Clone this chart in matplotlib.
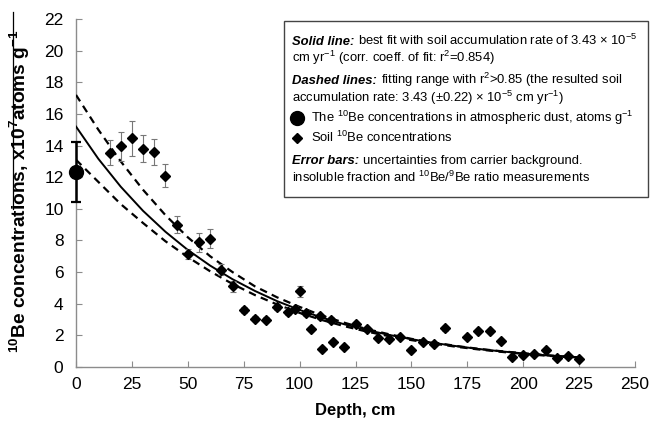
import matplotlib
matplotlib.use("Agg")
import matplotlib.pyplot as plt
from matplotlib.lines import Line2D
from matplotlib.patches import Rectangle

plt.rcParams['font.family'] = ['Liberation Sans', 'DejaVu Sans']
plt.rcParams['mathtext.fontset'] = 'custom'
plt.rcParams['mathtext.rm'] = 'Liberation Sans'
plt.rcParams['mathtext.it'] = 'Liberation Sans:italic'
plt.rcParams['mathtext.bf'] = 'Liberation Sans:bold'

# ---------------- data ----------------
soil_depth = [15, 20, 25, 30, 35, 40, 45, 50, 55, 60, 65, 70, 75, 80, 85, 90, 95,
              100, 98, 103, 105, 109, 110, 114, 115, 120, 125, 130, 135, 140, 145,
              150, 155, 160, 165, 175, 180, 185, 190, 195, 200, 205, 210, 215, 220, 225]
soil_conc = [13.55, 13.95, 14.45, 13.8, 13.6, 12.1, 9.0, 7.15, 7.9, 8.1, 6.15, 5.1, 3.6,
             3.05, 3.0, 3.8, 3.5, 4.8, 3.65, 3.4, 2.4, 3.2, 1.15, 3.0, 1.6, 1.27, 2.7,
             2.4, 1.85, 1.78, 1.9, 1.1, 1.55, 1.45, 2.45, 1.9, 2.27, 2.25, 1.65, 0.63,
             0.75, 0.8, 1.05, 0.58, 0.7, 0.5]
soil_err = [0.8, 0.9, 1.1, 0.85, 0.8, 0.75, 0.55, 0.3, 0.6, 0.6, 0.35, 0.35, 0.2,
            0.15, 0.15, 0.2, 0.2, 0.35, 0.2, 0.2, 0.15, 0.15, 0.1, 0.15, 0.1, 0.1, 0.15,
            0.15, 0.1, 0.1, 0.1, 0.1, 0.1, 0.1, 0.15, 0.1, 0.1, 0.1, 0.1, 0.05,
            0.05, 0.05, 0.05, 0.05, 0.05, 0.05]

dust_depth = [0]
dust_conc = [12.35]
dust_err = [1.9]

fit_depth = [0, 10, 20, 30, 40, 50, 60, 70, 80, 90, 100, 110, 120, 130, 140, 150,
             160, 170, 180, 190, 200, 210, 220, 225]
fit_best = [15.2, 13.16, 11.40, 9.87, 8.55, 7.40, 6.41, 5.55, 4.81, 4.16, 3.61, 3.12,
            2.70, 2.34, 2.03, 1.76, 1.52, 1.32, 1.14, 0.99, 0.86, 0.74, 0.64, 0.60]
fit_upper = [17.2, 15.0, 13.0, 11.2, 9.6, 8.2, 7.0, 6.0, 5.1, 4.4, 3.8, 3.25, 2.8, 2.4,
             2.07, 1.78, 1.55, 1.33, 1.15, 1.0, 0.87, 0.75, 0.65, 0.61]
fit_lower = [13.1, 11.7, 10.3, 9.1, 7.95, 6.95, 6.05, 5.25, 4.55, 3.95, 3.42, 2.97,
             2.58, 2.24, 1.95, 1.70, 1.48, 1.28, 1.11, 0.96, 0.83, 0.72, 0.62, 0.58]

x_ticks = [0, 25, 50, 75, 100, 125, 150, 175, 200, 225, 250]
y_ticks = [0, 2, 4, 6, 8, 10, 12, 14, 16, 18, 20, 22]

# ---------------- figure ----------------
W, H = 655, 425
fig = plt.figure(figsize=(W / 100, H / 100), dpi=100)
ax = fig.add_axes([76 / W, (H - 367) / H, 559 / W, 348 / H])

ax.plot(fit_depth, fit_best, color='black', lw=1.4, zorder=3)
ax.plot(fit_depth, fit_upper, color='black', lw=1.6, dashes=(3.4, 2.4), zorder=3)
ax.plot(fit_depth, fit_lower, color='black', lw=1.6, dashes=(3.4, 2.4), zorder=3)

ax.errorbar(soil_depth, soil_conc, yerr=soil_err, fmt='D', color='black', ms=5.5,
            ecolor='#777777', elinewidth=0.8, capsize=2.5, capthick=0.8, zorder=4)
ax.errorbar(dust_depth, dust_conc, yerr=dust_err, fmt='o', color='black', ms=10,
            elinewidth=1.8, capsize=3.5, capthick=1.6, zorder=5, clip_on=False)

ax.set_xlim(0, 250)
ax.set_ylim(0, 22)
ax.set_xticks(x_ticks)
ax.set_yticks(y_ticks)
for s in ['top', 'right']:
    ax.spines[s].set_visible(False)
for s in ['left', 'bottom']:
    ax.spines[s].set_color('#8c8c8c')
    ax.spines[s].set_linewidth(1.0)
ax.tick_params(axis='both', direction='in', length=4, color='#8c8c8c', labelsize=12.5)
ax.tick_params(axis='x', pad=7)
ax.tick_params(axis='y', pad=9)

ax.set_xlabel('Depth, cm', fontsize=12, fontweight='bold', labelpad=8)
ax.set_ylabel(r'$^{\mathbf{10}}$Be concentrations, x10$^{\mathbf{7}}$atoms g$^{\mathbf{-1}}$',
              fontsize=13.8, fontweight='bold')
ax.yaxis.set_label_coords(-0.078, 0.505)

# thin line artifact above the y label
fig.add_artist(Line2D([13 / W, 13 / W], [1 - 12 / H, 1 - 209 / H], color='black', lw=0.9,
                      transform=fig.transFigure))

# ---------------- legend box ----------------
fig.add_artist(Rectangle((284 / W, 1 - 197 / H), 364 / W, 176 / H, transform=fig.transFigure,
                         fill=False, ec='#444444', lw=1.0))

renderer = fig.canvas.get_renderer()
FS = 9.4


def rich(xpx, ybase, parts):
    x = xpx
    for s, style, gap in parts:
        kw = {}
        if 'b' in style:
            kw['fontweight'] = 'bold'
        if 'i' in style:
            kw['fontstyle'] = 'italic'
        t = fig.text(x / W, 1 - ybase / H, s, fontsize=FS, va='baseline', ha='left', **kw)
        bb = t.get_window_extent(renderer=renderer)
        x += bb.width + gap


rich(292, 45, [('Solid line:', 'bi', 4),
               (r'best fit with soil accumulation rate of 3.43 × 10$^{-5}$', '', 0)])
rich(292, 62, [(r'cm yr$^{-1}$ (corr. coeff. of fit: r$^{2}$=0.854)', '', 0)])
rich(292, 84, [('Dashed lines:', 'bi', 4),
               (r'fitting range with r$^{2}$>0.85 (the resulted soil', '', 0)])
rich(292, 102, [(r'accumulation rate: 3.43 (±0.22) × 10$^{-5}$ cm yr$^{-1}$)', '', 0)])
rich(311, 122, [(r'The $^{10}$Be concentrations in atmospheric dust, atoms g$^{-1}$', '', 0)])
rich(311, 142, [(r'Soil $^{10}$Be concentrations', '', 0)])
rich(292, 164, [('Error bars:', 'bi', 4),
                ('uncertainties from carrier background.', '', 0)])
rich(292, 182, [(r'insoluble fraction and $^{10}$Be/$^{9}$Be ratio measurements', '', 0)])

fig.add_artist(Line2D([297 / W], [1 - 118 / H], marker='o', ms=10, color='black',
                      transform=fig.transFigure))
fig.add_artist(Line2D([297 / W], [1 - 138 / H], marker='D', ms=5, color='black',
                      transform=fig.transFigure))

fig.savefig('out.png', dpi=100)
